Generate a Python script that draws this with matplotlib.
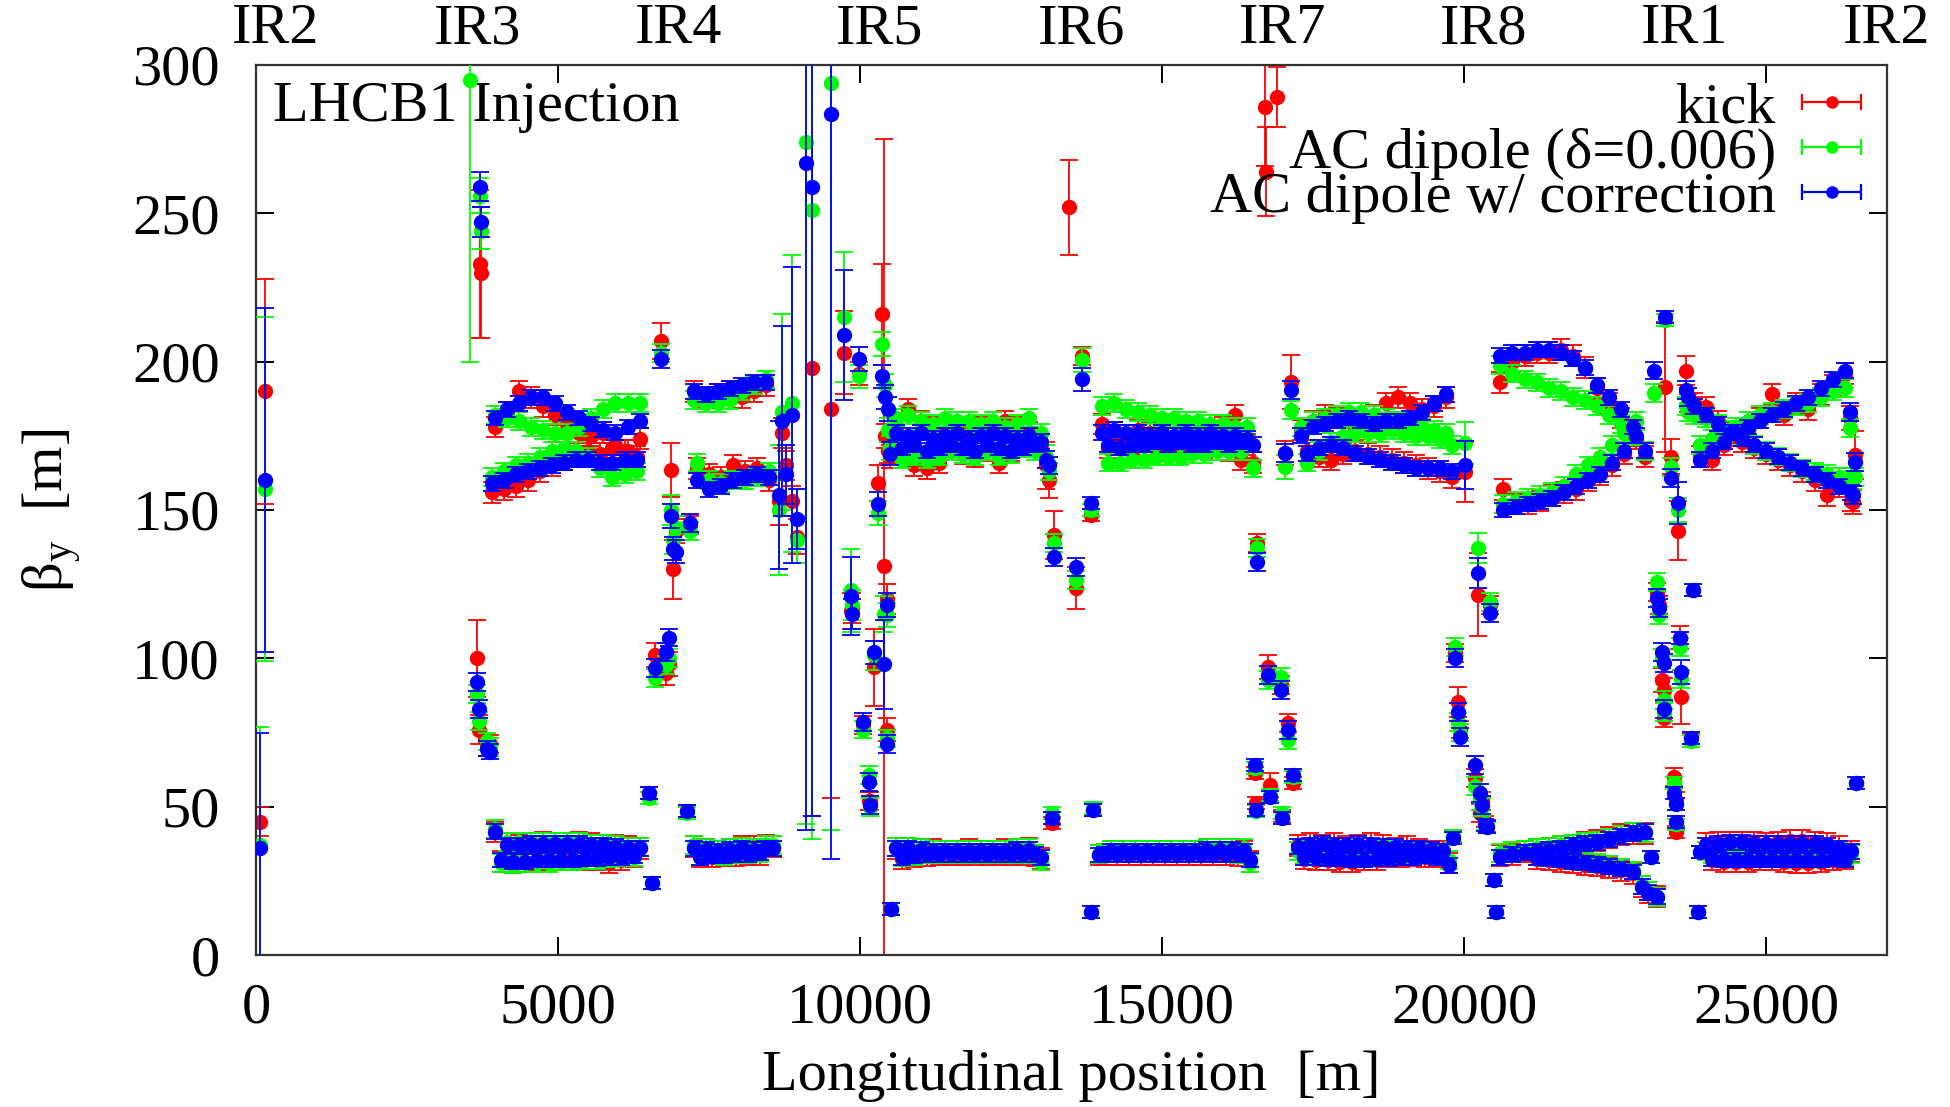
import numpy as np
import matplotlib.pyplot as plt
from matplotlib.transforms import blended_transform_factory

nan = np.nan

# insertion regions: (s [m], kick, err, AC dipole, err, AC dipole corrected, err)
ir2_start = [
    (60, 45, 5, 37, 40, 36, 39),
    (150, 190, 38, 157, 58, 160, 58),
]
ir3 = [
    (3540, nan, 0, 295, 95, nan, 0),
    (3660, 100, 13, 88, 3, 92, 3),
    (3690, 76, 5, 79, 3, 83, 3),
    (3710, 233, 25, 256, 6, 259, 5),
    (3730, 230, 22, 244, 6, 247, 5),
    (3820, 70, 3, 72, 3, 69.5, 2.5),
    (3870, 71, 3, 70, 3, 68.5, 2.5),
]
ir4 = [
    (6510, 54.5, 2, 53, 2, 54.5, 2),
    (6560, 24.3, 2, 24.3, 2, 24.3, 2),
    (6610, 101, 4, 93.4, 3, 96.8, 3),
    (6700, 207, 6, 203, 3, 201, 3),
    (6790, 95, 4, 97.8, 3, 102, 3),
    (6830, 98, 4, 100, 3, 107, 3),
    (6870, 163.5, 9, 150, 5, 148, 4),
    (6900, 130, 10, 140, 5, 137, 4),
    (6960, 143, 4, 144, 4, 136, 4),
    (7130, 48.5, 2, 48, 2, 48.5, 2),
    (7180, 145, 3, 143, 3, 145.6, 3),
]
ir5 = [
    (8650, 153, 8, 150, 22, 155, 25),
    (8700, 176, 5, 183, 33, 180, 32),
    (8780, 165, 5, 162, 10, 162, 10),
    (8880, 153, 5, 186, 50, 182, 50),
    (8960, 141, 6, 140, 8, 147, 10),
    (9110, nan, 0, 274, 230, 267, 225),
    (9200, 198, 151, 251, 212, 259, 212),
    (9520, 184, 131, 294, 252, 283.5, 251),
    (9740, 203, 14, 215, 22, 209, 22),
    (9850, 116, 6, 123, 14, 121, 13),
    (9870, 117, 5, 118, 5, 115, 5),
    (9990, 196, 4, 195, 4, 201, 4),
    (10040, 77.5, 3, 76, 3, 78.5, 3),
    (10150, 52, 3, 60.7, 3, 58.3, 3),
    (10170, 52, 3, 50, 3, 50.6, 3),
    (10230, 97, 13, 101, 5, 102, 4),
    (10300, 159, 6, 149, 4, 152, 4),
    (10360, 216, 17, 206, 4, 195, 4),
    (10390, 131, 144, 115, 6, 98, 15),
    (10420, 175, 4, 192, 4, 188, 4),
    (10440, 120, 5, 114.6, 4, 118, 4),
    (10450, 76, 4, 73, 3, 71, 3),
    (10470, 170, 4, 177, 4, 184, 4),
    (10500, 168, 4, 171, 4, 169, 4),
    (10510, 15.5, 2, 15.5, 2, 15.5, 2),
]
ir6 = [
    (13070, 165, 8, 168, 4, 167, 3),
    (13120, 160, 6, 163, 3, 165, 3),
    (13170, 44.5, 2, 48, 2, 46.2, 2),
    (13210, 141.6, 8, 139, 3, 134.2, 3),
    (13450, 252, 16, nan, 0, nan, 0),
    (13570, 123.7, 7, 126.4, 3, 130.8, 3),
    (13680, 202, 3, 200.6, 4, 194, 4),
    (13820, 148.3, 2, 150, 2, 152.5, 2),
    (13830, 14.5, 2, 14.5, 2, 14.5, 2),
    (13860, 48.9, 2, 49.5, 2, 48.9, 2),
]
ir7 = [
    (16540, 61.3, 2, 63, 2, 64, 2),
    (16560, 51.2, 2, 48.5, 2, 48.9, 2),
    (16570, 138.9, 3, 137.2, 3, 132.5, 3),
    (16700, 285.9, 20, nan, 0, nan, 0),
    (16720, 264, 15, nan, 0, nan, 0),
    (16760, 97, 4, 92.7, 3, 94.4, 3),
    (16780, 57.3, 4, 54, 2, 53.3, 2),
    (16900, 289.2, 10, nan, 0, nan, 0),
    (16960, 91, 3, 93.7, 3, 89.3, 3),
    (16980, 47, 2, 48, 2, 46.2, 2),
    (17040, 169.2, 4, 164.5, 4, 169.2, 3),
    (17090, 78.2, 3, 72.5, 3, 75.8, 3),
    (17140, 193.2, 9, 183.7, 3, 190.5, 3),
    (17170, 58, 2, 60, 2, 60.7, 2),
]
ir8 = [
    (19820, 40, 2, 40, 2, 39.4, 2),
    (19850, 101.8, 3, 103.8, 3, 100.1, 3),
    (19900, 85.3, 5, 78.6, 3, 82, 3),
    (19930, 76, 3, 75, 3, 73.5, 3),
    (20020, 162.8, 10, 172.6, 7, 165.2, 8),
    (20180, 59.7, 3, 57, 3, 64, 3),
    (20230, 121.4, 14, 137.2, 5, 128.8, 5),
    (20260, 47.9, 3, 52, 3, 54.6, 3),
    (20300, 52, 3, 50, 3, 50.6, 3),
    (20340, 45, 2, 44, 2, 43.8, 2),
    (20370, 43.5, 2, 43, 2, 43.2, 2),
    (20430, 118, 3, 119, 3, 115.3, 3),
    (20500, 25.3, 2, 25.3, 2, 25.3, 2),
    (20530, 14.5, 2, 14.5, 2, 14.5, 2),
]
ir1 = [
    (23100, 33, 2, 33, 2, 33, 2),
    (23150, nan, 0, 189.5, 3, 197, 3),
    (23200, 122.4, 3, 125.7, 3, 120.3, 3),
    (23230, 118, 3, 114.6, 3, 117, 3),
    (23280, 92.7, 4, 100, 3, 102, 3),
    (23300, 89.3, 4, 85.9, 3, 98.4, 3),
    (23310, 80, 3, 82, 3, 82.9, 3),
    (23320, 191.5, 22, 214, 2, 215, 2),
    (23430, 168, 6, 164.5, 3, 160.8, 3),
    (23480, 60, 3, 58, 2, 54.6, 2),
    (23500, 52, 3, 51, 2, 50.9, 2),
    (23510, 41.5, 2, 44, 2, 44.8, 2),
    (23540, 143, 10, 150, 4, 152.4, 7),
    (23570, 107, 4, 103.8, 3, 106.9, 2),
    (23590, 87, 9, 93, 3, 95.4, 4),
    (23670, 197, 5, 185, 3, 190.5, 3),
    (23700, 186, 3, 183, 3, 188, 3),
    (23750, 73, 2, 72, 2, 73.1, 2),
    (23790, 123, 2, 123, 2, 123, 2),
    (23870, 14.5, 2, 14.5, 2, 14.5, 2),
    (23900, 34.7, 2, 34.7, 2, 34.7, 2),
]
ir2_end = [
    (26390, 181, 4, 177.7, 3, 183, 3),
    (26440, 152.7, 4, 160, 3, 155, 3),
    (26470, 168.5, 8, 161, 3, 166.2, 3),
    (26480, 58, 2, 58, 2, 58, 2),
]

# arcs: BPM positions and beta_y of the three measurements
arc34_s = [3900, 4100, 4300, 4500, 4700, 4900, 5100, 5300, 5500, 5700, 5900, 6100, 6300,
           3950, 4150, 4350, 4550, 4750, 4950, 5150, 5350, 5550, 5750, 5950, 6150, 6350,
           3950, 4150, 4350, 4550, 4750, 4950, 5150, 5350, 5550, 5750, 5950, 6150, 6350,
           4050, 4250, 4450, 4650, 4850, 5050, 5250, 5450, 5650, 5850, 6050, 6250]
arc34_kick = [156, 157, 158, 160, 163, 165, 167, 168, 170, 169, 171, 170, 168,
              178, 183, 190, 188, 185, 182, 179, 176, 175, 176, 172, 170, 174,
              41.5, 37.5, 37, 37.5, 38, 37.5, 37.5, 38, 37.5, 37, 37, 36.5, 36,
              31.5, 31, 31.5, 32, 32, 32, 32, 32, 32, 31, 32, 33]
arc34_ac = [161, 163, 165, 166, 168, 170, 171, 170, 168, 164, 161, 162, 163,
            182, 181, 180, 178, 177, 176, 176, 178, 181, 184, 186, 186, 186,
            42.5, 38, 38, 38, 38, 38, 38, 38, 37.5, 37.5, 37, 36.5, 36.5,
            31, 30.5, 31, 31, 31, 31.5, 31.5, 32, 32, 32.5, 33, 33]
arc34_cor = [159, 160, 162, 163, 164, 165, 166, 167, 167, 166, 166, 167, 167,
             181, 184, 186, 188, 188, 186, 183, 181, 179, 177, 176, 178, 180,
             41.5, 37, 37, 37.5, 37.5, 37.5, 37.5, 37.5, 37, 37, 36.5, 36, 36,
             32, 31.5, 31.5, 32, 32, 32, 32, 32.5, 32.5, 33, 33, 33.5]

arc45_s = [7250, 7450, 7650, 7850, 8050, 8250, 8450,
           7300, 7500, 7700, 7900, 8100, 8300, 8500,
           7250, 7450, 7650, 7850, 8050, 8250, 8450,
           7350, 7550, 7750, 7950, 8150, 8350, 8550]
arc45_kick = [190, 188, 189, 190, 188, 190, 192,
              164, 162, 161, 165, 163, 164, 160,
              36.5, 35.5, 35, 35.5, 36.5, 36.5, 37,
              33, 33, 33.5, 33.5, 34, 34, 36.5]
arc45_ac = [187, 186, 186, 187, 190, 192, 194,
            166, 160, 159, 160, 160, 161, 163,
            37, 36, 35.5, 36, 36.5, 36, 37,
            33.5, 34, 33.5, 34, 34, 34.5, 37]
arc45_cor = [190, 189, 190, 191, 192, 193, 193,
             160, 157, 158, 160, 161, 162, 161,
             36, 35.5, 35, 35.5, 36, 35.5, 36,
             33, 33.5, 33.5, 34, 34, 34.5, 36]

arc56_s = [10600, 10800, 11000, 11200, 11400, 11600, 11800, 12000, 12200, 12400, 12600, 12800, 13000,
           10700, 10900, 11100, 11300, 11500, 11700, 11900, 12100, 12300, 12500, 12700, 12900,
           10600, 10800, 11000, 11200, 11400, 11600, 11800, 12000, 12200, 12400, 12600, 12800, 13000,
           10700, 10900, 11100, 11300, 11500, 11700, 11900, 12100, 12300, 12500, 12700, 12900]
arc56_kick = [178, 184, 180, 178, 176, 175, 177, 178, 176, 180, 178, 176, 172,
              170, 165, 164, 166, 172, 169, 168, 170, 166, 170, 172, 173,
              36, 36, 35.5, 35.5, 35, 35, 35.5, 35, 35, 35.5, 35.5, 36, 32.5,
              32.5, 33, 33.5, 34, 34, 34, 34, 34, 34, 34, 34, 33.5]
arc56_ac = [181, 182, 180, 179, 181, 180, 180, 179, 180, 178, 179, 181, 176,
            167, 168, 167, 168, 170, 169, 168, 170, 168, 169, 171, 170,
            36.5, 36.5, 36, 35.5, 35.5, 35.5, 35.5, 35.5, 35.5, 35.5, 36, 36, 31.5,
            33, 33.5, 34, 34, 34, 34, 34, 34, 34, 34, 34, 34]
arc56_cor = [176, 175, 176, 174, 175, 176, 174, 175, 176, 175, 174, 175, 173,
             171, 172, 170, 171, 172, 171, 170, 172, 171, 170, 171, 172,
             36, 36, 35.5, 35, 35, 35, 35, 35, 35, 35, 35.5, 35.5, 33,
             33, 33.5, 34, 34, 34, 34, 34, 34, 34, 34, 34, 34]

arc67_s = [14000, 14200, 14400, 14600, 14800, 15000, 15200, 15400, 15600, 15800, 16000, 16200, 16400,
           14100, 14300, 14500, 14700, 14900, 15100, 15300, 15500, 15700, 15900, 16100, 16300, 16500,
           13950, 14150, 14350, 14550, 14750, 14950, 15150, 15350, 15550, 15750, 15950, 16150, 16350,
           14050, 14250, 14450, 14650, 14850, 15050, 15250, 15450, 15650, 15850, 16050, 16250, 16450]
arc67_kick = [179, 176, 175, 177, 176, 175, 174, 176, 174, 175, 178, 182, 172,
              171, 172, 170, 172, 171, 170, 172, 173, 171, 172, 170, 167, 166,
              33.7, 35, 35, 35, 35, 35, 35, 35, 35, 35.5, 35.5, 35.5, 35,
              34, 34, 34, 34, 34, 34, 34, 34, 34, 34, 34, 33.5, 31.5]
arc67_ac = [185, 186, 184, 183, 182, 181, 181, 180, 180, 179, 179, 178, 178,
            166, 166, 167, 167, 168, 168, 168, 169, 169, 170, 170, 170, 164,
            34, 35.5, 35.5, 35.5, 35.5, 35.5, 35.5, 35.5, 35.5, 36, 36, 36, 36,
            34.5, 34.5, 34.5, 34.5, 34.5, 34.5, 34.5, 34.5, 34.5, 34.5, 34.5, 34, 31]
arc67_cor = [176, 177, 176, 176, 175, 176, 175, 176, 175, 176, 175, 175, 174,
             172, 171, 172, 172, 173, 172, 173, 172, 172, 173, 172, 173, 172,
             33.7, 35, 35, 35, 35, 35, 35, 35, 35, 35.5, 35.5, 35.5, 35,
             34, 34, 34, 34, 34, 34, 34, 34, 34, 34, 34, 34, 32]

arc78_s = [17300, 17500, 17700, 17900, 18100, 18300, 18500, 18700, 18900, 19100, 19300, 19500, 19700,
           17400, 17600, 17800, 18000, 18200, 18400, 18600, 18800, 19000, 19200, 19400, 19600, 19800,
           17250, 17450, 17650, 17850, 18050, 18250, 18450, 18650, 18850, 19050, 19250, 19450, 19650,
           17350, 17550, 17750, 17950, 18150, 18350, 18550, 18750, 18950, 19150, 19350, 19550, 19750]
arc78_kick = [177, 180, 182, 181, 180, 179, 182, 186, 188, 186, 184, 185, 188,
              170, 168, 167, 169, 170, 169, 168, 167, 166, 165, 164, 163, 161,
              37, 37.5, 37, 37.5, 36.5, 37, 37.5, 37, 36, 36.5, 35.5, 35, 35,
              32.5, 32, 32, 31.5, 31.5, 32, 32, 33, 33, 33.5, 33, 33, 31]
arc78_ac = [178, 180, 181, 182, 183, 183, 182, 181, 180, 179, 178, 177, 176,
            166, 170, 173, 175, 176, 176, 176, 177, 176, 175, 175, 174, 172,
            35, 35.5, 36, 35.5, 35.5, 35, 35, 35.5, 35, 35, 34.5, 34.5, 34,
            34, 34, 34, 34, 34, 33.5, 33.5, 33.5, 34, 34, 34, 34, 32]
arc78_cor = [175, 178, 179, 180, 181, 180, 179, 180, 180, 181, 183, 186, 189,
             169, 171, 172, 171, 169, 168, 167, 166, 165, 164, 164, 164, 163,
             36.5, 37, 37.5, 37, 37, 37.5, 37, 36.5, 36.5, 36, 36, 35.5, 35,
             33, 33, 32.5, 32.5, 32, 32, 32.5, 32.5, 33, 33, 33.5, 33, 30.3]

arc81_s = [20600, 20800, 21000, 21200, 21400, 21600, 21800, 22000, 22200, 22400, 22600, 22800, 23000,
           20650, 20850, 21050, 21250, 21450, 21650, 21850, 22050, 22250, 22450, 22650, 22850,
           20600, 20800, 21000, 21200, 21400, 21600, 21800, 22000, 22200, 22400, 22600, 22800, 23000,
           21200, 21400, 21600, 21800, 22000, 22200, 22400, 22600, 22800, 22950, 23050, 23200]
arc81_kick = [193, 200, 202, 203, 203, 204, 202, 198, 191, 186, 181, 175, 168,
              157, 152, 152, 153, 155, 156, 157, 160, 162, 165, 169, 174,
              33.5, 34, 35, 35.5, 36, 36.5, 37, 38, 38.5, 39.5, 40.5, 41, 41,
              32.5, 32, 31.5, 31, 30.5, 30, 29.5, 28.5, 27.5, 23, 21, 19.6]
arc81_ac = [199, 196, 194, 193, 191, 190, 188, 187, 185, 182, 179, 175, 170,
            152, 153, 154, 155, 156, 158, 162, 165, 168, 172, 176, 180,
            34.5, 35, 35.5, 36, 36.5, 37, 37.5, 38, 38.5, 39.5, 40.5, 41.5, 41,
            33.5, 33, 32.5, 32, 31.5, 31, 30.5, 29.5, 28.5, 23.5, 21.5, 19.6]
arc81_cor = [202, 203, 203, 204, 204, 203, 201, 198, 192, 188, 184, 178, 170,
             150, 151, 152, 153, 154, 156, 158, 160, 162, 166, 170, 175,
             33, 34, 34.5, 35, 35.5, 36, 37, 37.5, 38, 39, 40, 41, 41.5,
             33, 32.5, 32, 31.5, 31, 30.5, 29.7, 29, 28, 23, 21, 19.6]

arc12_s = [23800, 24000, 24200, 24400, 24600, 24800, 25000, 25200, 25400, 25600, 25800, 26000, 26200, 26400,
           23900, 24100, 24300, 24500, 24700, 24900, 25100, 25300, 25500, 25700, 25900, 26100, 26300,
           24000, 24200, 24400, 24600, 24800, 25000, 25200, 25400, 25600, 25800, 26000, 26200, 26400,
           24100, 24300, 24500, 24700, 24900, 25100, 25300, 25500, 25700, 25900, 26100, 26300]
arc12_kick = [186, 184.7, 180, 176, 173, 171, 169, 167, 165, 163, 160, 155, 158, 153,
              168, 167, 172, 175, 177, 181, 189, 182, 186, 184, 189, 192, 196,
              37.5, 38, 38, 38, 38, 37.5, 38, 38.5, 38.5, 38, 37.5, 36.5, 35,
              32, 31.5, 31.5, 31.5, 32, 32, 31.5, 31, 31, 31.5, 32, 32.5]
arc12_ac = [182, 181, 179, 177, 175, 172, 170, 168, 166, 164, 163, 162, 161, 161,
            172, 174, 176, 178, 180, 182, 183, 184, 185, 186, 188, 190, 191,
            35, 35, 35, 35, 35, 35, 35, 35, 35, 35, 35, 35, 34,
            34, 34, 34, 34, 34, 34, 34, 34, 34, 34, 34, 33.5]
arc12_cor = [185, 182, 179, 176, 174, 172, 170, 168, 166, 164, 162, 160, 158, 156,
             167, 170, 173, 176, 178, 180, 182, 184, 186, 188, 191, 194, 197,
             37, 37.5, 38, 38, 37.5, 37.5, 37.5, 37.5, 37.5, 37.5, 37, 36, 35,
             32.5, 32, 32, 32, 32, 32, 32, 32, 32, 32, 32.5, 32]

arc_err = (3.5, 3.0, 2.5)  # kick, AC dipole, corrected

ir_names = ['IR2', 'IR3', 'IR4', 'IR5', 'IR6', 'IR7', 'IR8', 'IR1', 'IR2']
ir_pos = [330, 3662, 6994, 10326, 13658, 16990, 20322, 23654, 26986]

series = [('kick', '#ff0000'),
          (u'AC dipole (\u03b4=0.006)', '#00ff00'),
          ('AC dipole w/ correction', '#0000ff')]

# collect everything per measurement
s_all = []
vals = [[], [], []]
errs = [[], [], []]
for tab in [ir2_start, ir3, ir4, ir5, ir6, ir7, ir8, ir1, ir2_end]:
    for row in tab:
        s_all.append(row[0])
        for k in range(3):
            vals[k].append(row[1 + 2 * k])
            errs[k].append(row[2 + 2 * k])
arcs = [(arc34_s, arc34_kick, arc34_ac, arc34_cor),
        (arc45_s, arc45_kick, arc45_ac, arc45_cor),
        (arc56_s, arc56_kick, arc56_ac, arc56_cor),
        (arc67_s, arc67_kick, arc67_ac, arc67_cor),
        (arc78_s, arc78_kick, arc78_ac, arc78_cor),
        (arc81_s, arc81_kick, arc81_ac, arc81_cor),
        (arc12_s, arc12_kick, arc12_ac, arc12_cor)]
for a in arcs:
    n = len(a[0])
    if any(len(v) != n for v in a[1:]):
        raise ValueError('arc length mismatch %d %s' % (n, [len(v) for v in a[1:]]))
    s_all += a[0]
    for k in range(3):
        vals[k] += a[k + 1]
        errs[k] += [arc_err[k]] * n

plt.rcParams['font.family'] = ['Liberation Serif', 'DejaVu Serif']
plt.rcParams['mathtext.fontset'] = 'custom'
plt.rcParams['mathtext.rm'] = 'Liberation Serif'
FS = 42

fig = plt.figure(figsize=(19.5, 11.07), dpi=100)
ax = fig.add_axes([0.1313, 0.1373, 0.8364, 0.8040])

handles = []
for k, (lab, col) in enumerate(series):
    ax.errorbar(s_all, vals[k], yerr=errs[k], fmt='o', color=col, ms=10,
                elinewidth=1.3, capsize=6.5, capthick=1.3, zorder=2 + k)
    # horizontal sample like the gnuplot key
    h = ax.errorbar([nan], [nan], xerr=[1], fmt='o', color=col, ms=8,
                    elinewidth=1.6, capsize=6, capthick=1.6)
    handles.append(h)

ax.set_xlim(0, 27000)
ax.set_ylim(0, 300)
ax.set_xticks([0, 5000, 10000, 15000, 20000, 25000])
ax.set_yticks([0, 50, 100, 150, 200, 250, 300])
ax.tick_params(direction='in', length=13, width=1.4, top=True, right=True,
               labelsize=FS)
ax.tick_params(axis='y', pad=26)
ax.tick_params(axis='x', pad=20)
for sp in ax.spines.values():
    sp.set_linewidth(1.6)
    sp.set_color('#333333')

ax.set_xlabel('Longitudinal position  [m]', fontsize=FS, labelpad=11)
ax.set_ylabel(u'\u03b2$_\\mathregular{y}$  [m]', fontsize=FS, labelpad=35)

trans = blended_transform_factory(ax.transData, ax.transAxes)
for name, x in zip(ir_names, ir_pos):
    ax.text(x, 1.04, name, transform=trans, ha='center', va='center',
            fontsize=FS)

ax.text(0.0104, 0.953, 'LHCB1 Injection', transform=ax.transAxes,
        ha='left', va='center', fontsize=FS)

ax.legend(handles, [s[0] for s in series], loc='upper right',
          bbox_to_anchor=(0.9785, 0.981), frameon=False, markerfirst=False,
          fontsize=FS, handlelength=0.7, handletextpad=0.6,
          labelspacing=-0.14, borderpad=0, borderaxespad=0)

fig.savefig('out.png', dpi=100)
